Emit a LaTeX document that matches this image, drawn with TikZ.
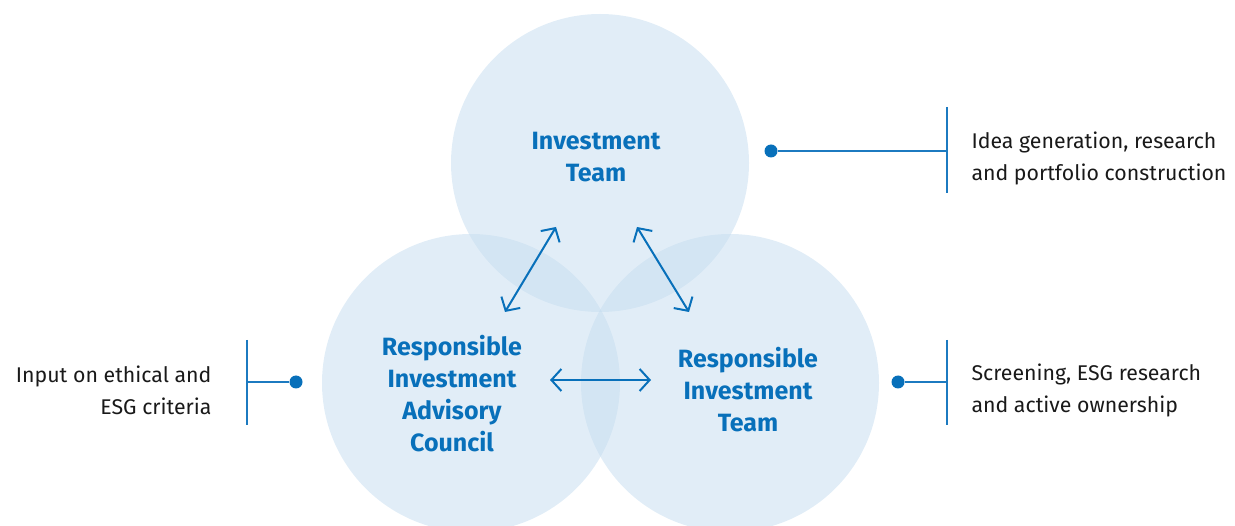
\documentclass[tikz,border=0pt]{standalone}
\usepackage{fontspec}
\setmainfont{Fira Sans}
\usetikzlibrary{arrows.meta}

\definecolor{circblue}{RGB}{196,220,239}
\definecolor{headblue}{RGB}{8,112,186}
\definecolor{lineblue}{RGB}{28,122,192}

\tikzset{
  circ/.style={circle, fill=circblue, fill opacity=0.5, minimum size=298pt, inner sep=0pt},
  head/.style={text=headblue, align=center, font=\fontsize{25}{32}\selectfont\bfseries},
  note/.style={text=black!90, font=\fontsize{21.3}{32}\selectfont},
  link/.style={draw=headblue, line width=2pt, {Straight Barb[length=10pt,width=22pt]}-{Straight Barb[length=10pt,width=22pt]}},
  callout/.style={draw=lineblue, line width=1.4pt},
  dot/.style={circle, fill=headblue, minimum size=13pt, inner sep=0pt}
}

\begin{document}
\begin{tikzpicture}[x=1pt, y=-1pt]
\useasboundingbox (0,0) rectangle (1235,526);
\clip (0,0) rectangle (1235,526);
% the three circles
\node[circ] (topc) at (600,163) {};
\node[circ] (leftc) at (471,383) {};
\node[circ] (rightc) at (730,383) {};
% labels in the circles
\node[head] (invteam) at (596,157) {Investment\\Team};
\node[head] (riac) at (452,394) {Responsible\\Investment\\Advisory\\Council};
\node[head] (riteam) at (748,390) {Responsible\\Investment\\Team};
% arrow ends
\coordinate (a1) at (505,312);
\coordinate (a2) at (556,227);
\coordinate (b1) at (637,227);
\coordinate (b2) at (689,312);
\coordinate (c1) at (550,380);
\coordinate (c2) at (651,380);
\draw[link] (a1) -- (a2);
\draw[link] (b1) -- (b2);
\draw[link] (c1) -- (c2);
% callouts
\node[dot] (dtop) at (771,151) {};
\coordinate (ttop) at (947,151);
\draw[callout] (dtop) -- (ttop);
\draw[callout] (947,107) -- (947,193);
\node[note, anchor=west, align=left] (ntop) at (968,158) {Idea generation, research\\and portfolio construction};
\node[dot] (dright) at (898,382) {};
\coordinate (tright) at (947,382);
\draw[callout] (dright) -- (tright);
\draw[callout] (947,340) -- (947,425);
\node[note, anchor=west, align=left] (nright) at (968,390) {Screening, ESG research\\and active ownership};
\node[dot] (dleft) at (296,382) {};
\coordinate (tleft) at (247,382);
\draw[callout] (dleft) -- (tleft);
\draw[callout] (247,340) -- (247,425);
\node[note, anchor=east, align=right] (nleft) at (215,390) {Input on ethical and\\ESG criteria};
\end{tikzpicture}
\end{document}
